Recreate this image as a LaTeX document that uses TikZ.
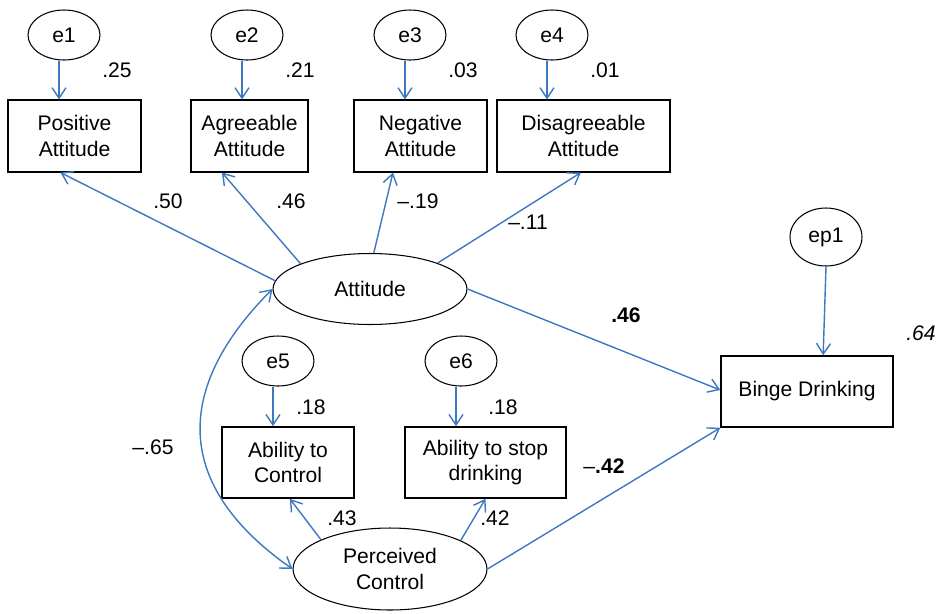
\documentclass[tikz,border=0pt]{standalone}
\usepackage{fontspec}
\setmainfont{Liberation Sans}
\usetikzlibrary{shapes.geometric,arrows.meta}
\definecolor{pathblue}{RGB}{61,120,192}

\begin{document}
\begin{tikzpicture}[x=0.02cm,y=0.02cm,
    font=\fontsize{12}{14.5}\selectfont,
    latent/.style={draw,ellipse,line width=0.6pt,inner sep=0pt,align=center},
    errvar/.style={latent,minimum width=1.44cm,minimum height=1cm},
    observed/.style={draw,rectangle,line width=0.9pt,inner sep=0pt,align=center,minimum height=1.43cm},
    pth/.style={draw=pathblue,line width=0.8pt,-{Straight Barb[length=6pt,width=8pt]}},
    cov/.style={draw=pathblue,line width=0.8pt,{Straight Barb[length=6pt,width=8pt]}-{Straight Barb[length=6pt,width=8pt]}},
    coef/.style={inner sep=0pt}]
      \useasboundingbox (0,0) rectangle (940,-613);
      \node[errvar] (e1) at (64,-35) {e1};
      \node[errvar] (e2) at (247,-35) {e2};
      \node[errvar] (e3) at (410,-35) {e3};
      \node[errvar] (e4) at (552,-35) {e4};
      \node[observed, minimum width=2.66cm] (pos) at (74.5,-136) {Positive\\Attitude};
      \node[observed, minimum width=2.34cm] (agr) at (249.5,-136) {Agreeable\\Attitude};
      \node[observed, minimum width=2.66cm] (neg) at (420.5,-136) {Negative\\Attitude};
      \node[observed, minimum width=3.46cm] (dis) at (583.5,-136) {Disagreeable\\Attitude};
      \node[latent, minimum width=3.88cm, minimum height=1.42cm] (att) at (370,-289) {Attitude};
      \node[errvar] (e5) at (278,-361) {e5};
      \node[errvar] (e6) at (461,-361) {e6};
      \node[observed, minimum width=2.64cm, minimum height=1.42cm] (abc) at (288,-462.5) {Ability to\\Control};
      \node[observed, minimum width=3.22cm, minimum height=1.42cm] (abs) at (485.5,-462.5) {Ability to stop\\drinking};
      \node[latent, minimum width=3.88cm, minimum height=1.64cm] (per) at (390,-569) {Perceived\\Control};
      \node[latent, minimum width=1.44cm, minimum height=1.16cm] (ep1) at (826,-237) {ep1};
      \node[observed, minimum width=3.44cm, minimum height=1.42cm] (binge) at (807,-391.5) {Binge Drinking};
      \draw[pth] ([xshift=-0.1cm]e1.south) -- ([xshift=-0.1cm]e1.south |- pos.north);
      \draw[pth] ([xshift=-0.1cm]e2.south) -- ([xshift=-0.1cm]e2.south |- agr.north);
      \draw[pth] ([xshift=-0.1cm]e3.south) -- ([xshift=-0.1cm]e3.south |- neg.north);
      \draw[pth] ([xshift=-0.1cm]e4.south) -- ([xshift=-0.1cm]e4.south |- dis.north);
      \draw[pth] ([xshift=-0.1cm]e5.south) -- ([xshift=-0.1cm]e5.south |- abc.north);
      \draw[pth] ([xshift=-0.1cm]e6.south) -- ([xshift=-0.1cm]e6.south |- abs.north);
      \draw[pth] (att.175) -- (pos.249);
      \draw[pth] (att.160) -- (agr.233);
      \draw[pth] (att.84) -- (neg.233);
      \draw[pth] (att.21) -- (dis.266);
      \draw[pth] (att.0) -- (binge.179);
      \draw[pth] (per.0) -- (binge.south west);
      \draw[pth] (per.157) -- (abc.273);
      \draw[pth] (per.22) -- (abs.270);
      \draw[pth] (ep1.south) -- (binge.66);
      \draw[cov] (att.west) to[out=225,in=145,out distance=2.6cm,in distance=3.1cm] (per.west);
      \node[coef] (r1) at (117,-70) {.25};
      \node[coef] (r2) at (300,-70) {.21};
      \node[coef] (r3) at (463,-70) {.03};
      \node[coef] (r4) at (605,-70) {.01};
      \node[coef] (l1) at (168,-201) {.50};
      \node[coef] (l2) at (291,-201) {.46};
      \node[coef] (l3) at (418,-201) {–.19};
      \node[coef] (l4) at (528,-222) {–.11};
      \node[coef] (b1) at (626,-315) {\textbf{.46}};
      \node[coef] (rb) at (921,-333) {\textit{.64}};
      \node[coef] (r5) at (311,-407) {.18};
      \node[coef] (r6) at (503,-407) {.18};
      \node[coef] (cv) at (153,-447) {–.65};
      \node[coef] (l5) at (342,-518) {.43};
      \node[coef] (l6) at (495,-518) {.42};
      \node[coef] (b2) at (604,-466) {–\textbf{.42}};
    \end{tikzpicture}
\end{document}
